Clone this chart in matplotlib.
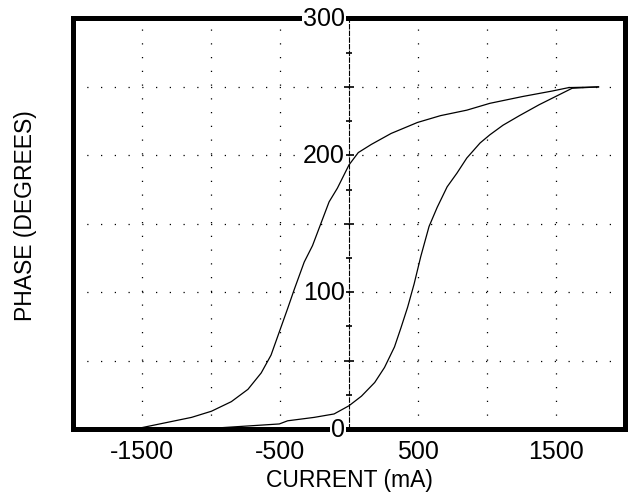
import matplotlib
matplotlib.use("Agg")
import matplotlib.pyplot as plt

plt.rcParams["font.family"] = ["Liberation Sans", "DejaVu Sans"]

# decreasing-current branch (upper part of the loop)
down_x = [1805, 1590, 1471, 1257, 1019, 852, 662, 495, 305, 162, 67, 0,
          -84, -144, -204, -264, -324, -396, -444, -504, -564, -635, -731,
          -851, -995, -1139, -1307, -1499, -1570]
down_y = [250, 249.5, 247, 243, 238, 233, 229, 224, 216, 208, 202, 193,
          176, 166, 150, 134, 122, 102, 88, 71, 54, 41, 29,
          20, 13, 8.5, 5, 1, 0.5]

# increasing-current branch (lower part of the loop)
up_x = [-1570, -1500, -995, -504, -444, -252, -108, 0, 90, 186, 257, 329, 376,
        424, 471, 519, 579, 638, 710, 781, 852, 948, 1019, 1114, 1233, 1376,
        1495, 1614, 1805]
up_y = [0, 0, 0.5, 3.7, 6, 8.5, 11, 17, 24, 34, 45, 60, 74,
        89, 106, 126, 148, 162, 177, 187, 198, 209, 215, 222, 229, 237,
        243, 249, 250]

xticks = [-1500, -500, 500, 1500]
xgrid = [-1500, -1000, -500, 500, 1000, 1500]
ygrid = [50, 100, 150, 200, 250]
ylabels = [0, 100, 200, 300]
ymajor = [0, 50, 100, 150, 200, 250, 300]
yminor = [25, 75, 125, 175, 225, 275]

fig = plt.figure(figsize=(6.29, 5.02), dpi=100)
ax = fig.add_axes([0.1153, 0.1434, 0.9944 - 0.1153, 0.9612 - 0.1434])

ax.set_xlim(-2000, 2000)
ax.set_ylim(0, 300)

for g in xgrid:
    ax.axvline(g, color="k", lw=0.9, ls=(0, (1, 10)), zorder=1)
for g in ygrid:
    ax.axhline(g, color="k", lw=0.9, ls=(0, (1, 10)), zorder=1)

# centre axis with cross ticks
ax.axvline(0, color="k", lw=0.8, ls=(0, (5, 1)), zorder=2)
ax.plot([0] * len(ymajor), ymajor, ls="none", marker="_", ms=7.5, mew=1.2, color="k", zorder=2)
ax.plot([0] * len(yminor), yminor, ls="none", marker="_", ms=4, mew=1.2, color="k", zorder=2)

ax.plot(down_x, down_y, color="k", lw=0.9, zorder=2)
ax.plot(up_x, up_y, color="k", lw=0.9, zorder=2)

for v in ylabels:
    ax.text(-30, v, str(v), ha="right", va="center", fontsize=18, zorder=4,
            bbox=dict(facecolor="white", edgecolor="none", pad=0.5))

for s in ax.spines.values():
    s.set_linewidth(3.6)

ax.set_xticks(xticks)
ax.set_xticklabels([str(t) for t in xticks], fontsize=18)
ax.set_yticks([])
ax.tick_params(axis="x", length=0, pad=7)

ax.set_xlabel("CURRENT (mA)", fontsize=16.5, labelpad=4)
fig.text(0.04, 0.57, "PHASE (DEGREES)", rotation=90, ha="center", va="center", fontsize=16.5)

fig.savefig("out.png", dpi=100)
